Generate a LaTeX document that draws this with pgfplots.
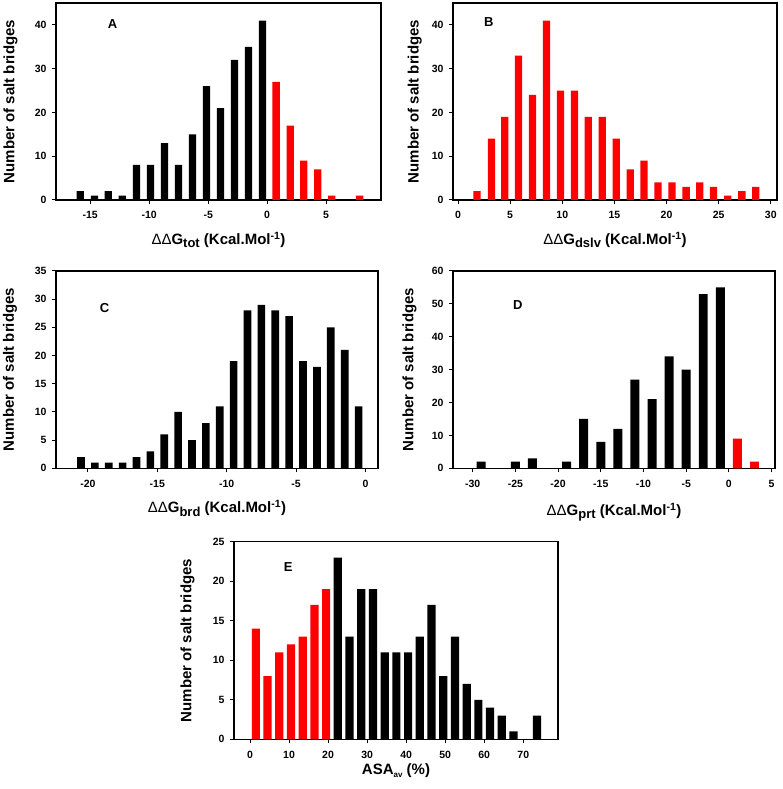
\documentclass[border=0pt]{standalone}
\usepackage{fontspec}
\setmainfont{Liberation Sans}
\usepackage{pgfplots}
\pgfplotsset{compat=1.18}

% x label: Delta Delta G with a subscript
\newcommand{\ddg}[1]{{\mdseries ΔΔ}G\raisebox{-0.45ex}{\fontsize{13}{15}\selectfont #1} (Kcal.Mol\textsuperscript{-1})}

\tikzset{letter/.style={font=\bfseries\fontsize{13}{15}\selectfont}}
\pgfplotsset{
  sb/.style={
    scale only axis, anchor=south west,
    ybar, bar shift=0pt, ymin=0,
    axis line style={line width=1.3pt},
    tick align=outside, xtick pos=left, ytick pos=left,
    major tick length=4pt, tick style={line width=1pt, black},
    tick label style={font=\bfseries\fontsize{10.5}{12}\selectfont},
    xticklabel style={yshift=-4pt},
    yticklabel style={xshift=-2pt},
    /pgf/number format/assume math mode=true,
    label style={font=\bfseries\fontsize{15}{18}\selectfont},
    ylabel={Number of salt bridges},
  },
  blk/.style={fill=black, draw=none},
  rd/.style={fill=red, draw=none},
}

\begin{document}
\begin{tikzpicture}
\path[use as bounding box] (0,0) rectangle (783pt,789pt);

% A
\begin{axis}[sb, at={(56pt,589pt)}, width=325pt, height=197pt,
  xmin=-17.9, xmax=9.65, ymax=45, bar width=0.62,
  xtick={-15,-10,-5,0,5}, ytick={0,10,20,30,40},
  xlabel={\ddg{tot}},
  ylabel style={at={(axis description cs:-0.14,0.5)}, anchor=center},
  xlabel style={at={(axis description cs:0.5,-0.203)}, anchor=center}]
\addplot[blk] coordinates {(-15.85,2) (-14.63,1) (-13.47,2) (-12.29,1) (-11.08,8) (-9.89,8) (-8.70,13) (-7.52,8) (-6.33,15) (-5.14,26) (-3.96,21) (-2.77,32) (-1.58,35) (-0.40,41)};
\addplot[rd] coordinates {(0.76,27) (1.95,17) (3.10,9) (4.29,7) (5.47,1) (7.84,1)};
\node[letter] at (axis cs:-13.1,40.2) {A};
\end{axis}

% B
\begin{axis}[sb, at={(453pt,589pt)}, width=324pt, height=197pt,
  xmin=-0.48, xmax=30.6, ymax=45, bar width=0.7,
  xtick={0,5,10,15,20,25,30}, ytick={0,10,20,30,40},
  xlabel={\ddg{dslv}},
  ylabel style={at={(axis description cs:-0.118,0.5)}, anchor=center},
  xlabel style={at={(axis description cs:0.5,-0.203)}, anchor=center}]
\addplot[rd] coordinates {(1.83,2) (3.21,14) (4.48,19) (5.80,33) (7.14,24) (8.49,41) (9.84,25) (11.18,25) (12.49,19) (13.83,19) (15.18,14) (16.52,7) (17.84,9) (19.18,4) (20.53,4) (21.88,3) (23.19,4) (24.5,3) (25.88,1) (27.23,2) (28.57,3)};
\node[letter] at (axis cs:2.95,40.7) {B};
\end{axis}

% C
\begin{axis}[sb, at={(56pt,320.7pt)}, width=322pt, height=197.3pt,
  xmin=-22.3, xmax=0.9, ymax=35, bar width=0.55,
  xtick={-20,-15,-10,-5,0}, ytick={0,5,10,15,20,25,30,35},
  xlabel={\ddg{brd}},
  ylabel style={at={(axis description cs:-0.143,0.5)}, anchor=center},
  xlabel style={at={(axis description cs:0.5,-0.203)}, anchor=center}]
\addplot[blk] coordinates {(-20.5,2) (-19.5,1) (-18.5,1) (-17.5,1) (-16.5,2) (-15.5,3) (-14.5,6) (-13.5,10) (-12.5,5) (-11.5,8) (-10.5,11) (-9.5,19) (-8.5,28) (-7.5,29) (-6.5,28) (-5.5,27) (-4.5,19) (-3.5,18) (-2.5,25) (-1.5,21) (-0.5,11)};
\node[letter] at (axis cs:-18.8,28.4) {C};
\end{axis}

% D
\begin{axis}[sb, at={(453pt,320.7pt)}, width=322pt, height=197.3pt,
  xmin=-32.3, xmax=5.4, ymax=60, bar width=1.05,
  xtick={-30,-25,-20,-15,-10,-5,0,5}, ytick={0,10,20,30,40,50,60},
  xlabel={\ddg{prt}},
  ylabel style={at={(axis description cs:-0.135,0.5)}, anchor=center},
  xlabel style={at={(axis description cs:0.5,-0.223)}, anchor=center}]
\addplot[blk] coordinates {(-29,2) (-25,2) (-23,3) (-19,2) (-17,15) (-15,8) (-13,12) (-11,27) (-9,21) (-7,34) (-5,30) (-3,53) (-1,55)};
\addplot[rd] coordinates {(1,9) (3,2)};
\node[letter] at (axis cs:-24.7,49.8) {D};
\end{axis}

% E
\begin{axis}[sb, at={(234pt,49.7pt)}, width=324pt, height=197.6pt,
  xmin=-4.1, xmax=78.9, ymax=25, bar width=2.1,
  xtick={0,10,20,30,40,50,60,70}, ytick={0,5,10,15,20,25},
  xlabel={ASA\raisebox{-0.4ex}{\fontsize{8}{9}\selectfont av} (\%)},
  ylabel style={at={(axis description cs:-0.1435,0.5)}, anchor=center},
  xlabel style={at={(axis description cs:0.5,-0.157)}, anchor=center}]
\addplot[rd] coordinates {(1.5,14) (4.5,8) (7.5,11) (10.5,12) (13.5,13) (16.5,17) (19.5,19)};
\addplot[blk] coordinates {(22.5,23) (25.5,13) (28.5,19) (31.5,19) (34.5,11) (37.5,11) (40.5,11) (43.5,13) (46.5,17) (49.5,8) (52.5,13) (55.5,7) (58.5,5) (61.5,4) (64.5,3) (67.5,1) (73.5,3)};
\node[letter] at (axis cs:9.8,21.8) {E};
\end{axis}
\end{tikzpicture}
\end{document}
